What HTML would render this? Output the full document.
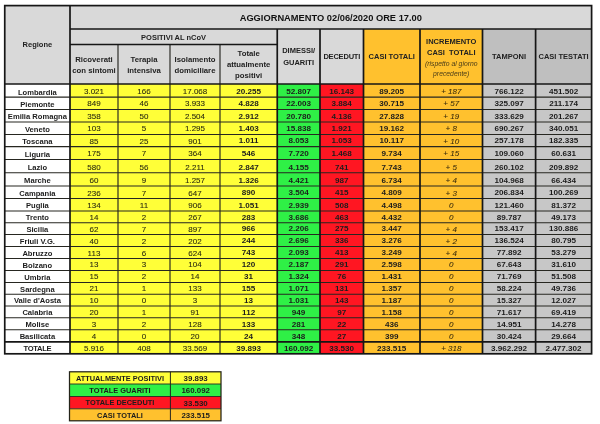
<!DOCTYPE html>
<html lang="it"><head><meta charset="utf-8"><title>Aggiornamento 02/06/2020 ore 17.00</title>
<style>
html,body{margin:0;padding:0;background:#fff;}
body{width:600px;height:424px;overflow:hidden;position:relative;font-family:"Liberation Sans",sans-serif;color:#1c1c1c;}
#wrap{position:absolute;left:0;top:0;width:600px;height:424px;filter:blur(0.4px);}
svg{position:absolute;left:0;top:0;}
.c{position:absolute;display:flex;align-items:center;justify-content:center;text-align:center;white-space:nowrap;font-size:8px;line-height:1;}
.c span{display:block;}
.n{font-weight:400;color:#2a2a10;-webkit-text-stroke:0.08px #2a2a10;}
.b{font-weight:700;font-size:8.1px;}
.r{font-size:7.6px;}
.d{align-items:flex-end;}
.tot{letter-spacing:-0.35px;}
.i{font-style:italic;color:#3a2c0c;-webkit-text-stroke:0.08px #3a2c0c;}
.h{font-weight:700;font-size:7.5px;line-height:11.6px;color:#222;}
.m{font-size:7.75px;line-height:11px;}
.inc b,.inc i{display:block;}
.inc b{line-height:11.7px;}
.inc i{font-weight:400;font-size:6.8px;line-height:9.6px;color:#4a3c18;}
.t{font-weight:700;font-size:9.3px;color:#111;}
.s{font-weight:700;font-size:7.9px;}
.sl{font-size:7.4px;}
</style></head><body><div id="wrap">
<svg width="600" height="424" viewBox="0 0 600 424">
<rect x="4.75" y="5.60" width="65.25" height="78.40" fill="#d9d9d9"/>
<rect x="70.00" y="5.60" width="521.60" height="23.40" fill="#d9d9d9"/>
<rect x="70.00" y="29.00" width="207.25" height="15.60" fill="#d9d9d9"/>
<rect x="70.00" y="44.60" width="207.25" height="39.40" fill="#d9d9d9"/>
<rect x="277.25" y="29.00" width="86.25" height="55.00" fill="#d9d9d9"/>
<rect x="363.50" y="29.00" width="119.00" height="55.00" fill="#ffc12e"/>
<rect x="482.50" y="29.00" width="109.10" height="55.00" fill="#bfbfbf"/>
<rect x="4.75" y="84.00" width="65.25" height="269.80" fill="#ffffff"/>
<rect x="70.00" y="84.00" width="48.00" height="269.80" fill="#ffff38"/>
<rect x="118.00" y="84.00" width="52.00" height="269.80" fill="#ffff38"/>
<rect x="170.00" y="84.00" width="50.00" height="269.80" fill="#ffff38"/>
<rect x="220.00" y="84.00" width="57.25" height="269.80" fill="#ffff38"/>
<rect x="277.25" y="84.00" width="42.75" height="269.80" fill="#2ff046"/>
<rect x="320.00" y="84.00" width="43.50" height="269.80" fill="#ff1622"/>
<rect x="363.50" y="84.00" width="56.50" height="269.80" fill="#ffc12e"/>
<rect x="420.00" y="84.00" width="62.50" height="269.80" fill="#ffc12e"/>
<rect x="482.50" y="84.00" width="53.10" height="269.80" fill="#c7c7c7"/>
<rect x="535.60" y="84.00" width="56.00" height="269.80" fill="#c7c7c7"/>
<line x1="4.75" y1="97.10" x2="591.60" y2="97.10" stroke="#262620" stroke-width="1.05"/>
<line x1="4.75" y1="109.40" x2="591.60" y2="109.40" stroke="#262620" stroke-width="1.05"/>
<line x1="4.75" y1="121.90" x2="591.60" y2="121.90" stroke="#262620" stroke-width="1.05"/>
<line x1="4.75" y1="134.40" x2="591.60" y2="134.40" stroke="#262620" stroke-width="1.05"/>
<line x1="4.75" y1="146.60" x2="591.60" y2="146.60" stroke="#262620" stroke-width="1.05"/>
<line x1="4.75" y1="159.40" x2="591.60" y2="159.40" stroke="#262620" stroke-width="1.05"/>
<line x1="4.75" y1="172.75" x2="591.60" y2="172.75" stroke="#262620" stroke-width="1.05"/>
<line x1="4.75" y1="186.00" x2="591.60" y2="186.00" stroke="#262620" stroke-width="1.05"/>
<line x1="4.75" y1="198.50" x2="591.60" y2="198.50" stroke="#262620" stroke-width="1.05"/>
<line x1="4.75" y1="211.00" x2="591.60" y2="211.00" stroke="#262620" stroke-width="1.05"/>
<line x1="4.75" y1="222.75" x2="591.60" y2="222.75" stroke="#262620" stroke-width="1.05"/>
<line x1="4.75" y1="234.50" x2="591.60" y2="234.50" stroke="#262620" stroke-width="1.05"/>
<line x1="4.75" y1="246.50" x2="591.60" y2="246.50" stroke="#262620" stroke-width="1.05"/>
<line x1="4.75" y1="258.50" x2="591.60" y2="258.50" stroke="#262620" stroke-width="1.05"/>
<line x1="4.75" y1="270.40" x2="591.60" y2="270.40" stroke="#262620" stroke-width="1.05"/>
<line x1="4.75" y1="282.50" x2="591.60" y2="282.50" stroke="#262620" stroke-width="1.05"/>
<line x1="4.75" y1="294.30" x2="591.60" y2="294.30" stroke="#262620" stroke-width="1.05"/>
<line x1="4.75" y1="306.00" x2="591.60" y2="306.00" stroke="#262620" stroke-width="1.05"/>
<line x1="4.75" y1="317.80" x2="591.60" y2="317.80" stroke="#262620" stroke-width="1.05"/>
<line x1="4.75" y1="329.70" x2="591.60" y2="329.70" stroke="#262620" stroke-width="1.05"/>
<line x1="118.00" y1="44.60" x2="118.00" y2="353.80" stroke="#262620" stroke-width="1.15"/>
<line x1="170.00" y1="44.60" x2="170.00" y2="353.80" stroke="#262620" stroke-width="1.15"/>
<line x1="220.00" y1="44.60" x2="220.00" y2="353.80" stroke="#262620" stroke-width="1.15"/>
<line x1="70.00" y1="5.60" x2="70.00" y2="353.80" stroke="#161616" stroke-width="1.7"/>
<line x1="277.25" y1="29.00" x2="277.25" y2="353.80" stroke="#161616" stroke-width="1.7"/>
<line x1="320.00" y1="29.00" x2="320.00" y2="353.80" stroke="#161616" stroke-width="1.7"/>
<line x1="363.50" y1="29.00" x2="363.50" y2="353.80" stroke="#161616" stroke-width="1.7"/>
<line x1="420.00" y1="29.00" x2="420.00" y2="353.80" stroke="#161616" stroke-width="1.7"/>
<line x1="482.50" y1="29.00" x2="482.50" y2="353.80" stroke="#161616" stroke-width="1.7"/>
<line x1="535.60" y1="29.00" x2="535.60" y2="353.80" stroke="#161616" stroke-width="1.7"/>
<line x1="70.00" y1="29.00" x2="591.60" y2="29.00" stroke="#161616" stroke-width="1.7"/>
<line x1="70.00" y1="44.60" x2="277.25" y2="44.60" stroke="#161616" stroke-width="1.5"/>
<line x1="4.75" y1="84.00" x2="591.60" y2="84.00" stroke="#161616" stroke-width="1.7"/>
<line x1="4.75" y1="341.80" x2="591.60" y2="341.80" stroke="#161616" stroke-width="1.7"/>
<rect x="4.75" y="5.60" width="586.85" height="348.20" fill="none" stroke="#161616" stroke-width="1.7"/>
<rect x="69.50" y="371.80" width="151.50" height="12.20" fill="#ffff38"/>
<rect x="69.50" y="384.00" width="151.50" height="12.50" fill="#2ff046"/>
<rect x="69.50" y="396.50" width="151.50" height="12.30" fill="#ff1622"/>
<rect x="69.50" y="408.80" width="151.50" height="12.00" fill="#ffc12e"/>
<line x1="69.50" y1="384.00" x2="221.00" y2="384.00" stroke="#262620" stroke-width="0.9"/>
<line x1="69.50" y1="396.50" x2="221.00" y2="396.50" stroke="#262620" stroke-width="0.9"/>
<line x1="69.50" y1="408.80" x2="221.00" y2="408.80" stroke="#262620" stroke-width="0.9"/>
<line x1="170.40" y1="371.80" x2="170.40" y2="420.80" stroke="#262620" stroke-width="1.0"/>
<rect x="69.50" y="371.80" width="151.50" height="49.00" fill="none" stroke="#24241a" stroke-width="1.25"/>
</svg>
<div class="c h" style="left:4.75px;top:5.60px;width:65.25px;height:78.40px;"><span>Regione</span></div>
<div class="c t" style="left:70.00px;top:7.40px;width:521.60px;height:21.60px;"><span>AGGIORNAMENTO 02/06/2020 ORE 17.00</span></div>
<div class="c h" style="left:70.00px;top:30.20px;width:207.25px;height:14.40px;"><span>POSITIVI AL nCoV</span></div>
<div class="c h m" style="left:70.00px;top:46.60px;width:48.00px;height:37.40px;"><span>Ricoverati<br>con sintomi</span></div>
<div class="c h m" style="left:118.00px;top:46.60px;width:52.00px;height:37.40px;"><span>Terapia<br>intensiva</span></div>
<div class="c h m" style="left:170.00px;top:46.60px;width:50.00px;height:37.40px;"><span>Isolamento<br>domiciliare</span></div>
<div class="c h m" style="left:220.00px;top:44.80px;width:57.25px;height:39.20px;"><span>Totale<br>attualmente<br>positivi</span></div>
<div class="c h" style="left:277.25px;top:29.00px;width:42.75px;height:55.00px;"><span>DIMESSI/<br>GUARITI</span></div>
<div class="c h" style="left:320.00px;top:29.00px;width:43.50px;height:55.00px;letter-spacing:-0.2px;"><span>DECEDUTI</span></div>
<div class="c h" style="left:363.50px;top:29.00px;width:56.50px;height:55.00px;"><span>CASI TOTALI</span></div>
<div class="c h inc" style="left:420.00px;top:30.00px;width:62.50px;height:54.00px;"><span><b>INCREMENTO</b><b>CASI&nbsp; TOTALI</b><i>(rispetto al giorno</i><i>precedente)</i></span></div>
<div class="c h" style="left:482.50px;top:29.00px;width:53.10px;height:55.00px;"><span>TAMPONI</span></div>
<div class="c h" style="left:535.60px;top:29.00px;width:56.00px;height:55.00px;"><span>CASI TESTATI</span></div>
<div class="c b r d" style="left:4.75px;top:84.00px;width:65.25px;height:12.10px;"><span>Lombardia</span></div>
<div class="c n d" style="left:70.00px;top:84.00px;width:48.00px;height:12.10px;"><span>3.021</span></div>
<div class="c n d" style="left:118.00px;top:84.00px;width:52.00px;height:12.10px;"><span>166</span></div>
<div class="c n d" style="left:170.00px;top:84.00px;width:50.00px;height:12.10px;"><span>17.068</span></div>
<div class="c b d" style="left:220.00px;top:84.00px;width:57.25px;height:12.10px;"><span>20.255</span></div>
<div class="c b d" style="left:277.25px;top:84.00px;width:42.75px;height:12.10px;"><span>52.807</span></div>
<div class="c b d" style="left:320.00px;top:84.00px;width:43.50px;height:12.10px;"><span>16.143</span></div>
<div class="c b d" style="left:363.50px;top:84.00px;width:56.50px;height:12.10px;"><span>89.205</span></div>
<div class="c i d" style="left:420.00px;top:84.00px;width:62.50px;height:12.10px;"><span>+ 187</span></div>
<div class="c b d" style="left:482.50px;top:84.00px;width:53.10px;height:12.10px;"><span>766.122</span></div>
<div class="c b d" style="left:535.60px;top:84.00px;width:56.00px;height:12.10px;"><span>451.502</span></div>
<div class="c b r d" style="left:4.75px;top:97.10px;width:65.25px;height:11.30px;"><span>Piemonte</span></div>
<div class="c n d" style="left:70.00px;top:97.10px;width:48.00px;height:11.30px;"><span>849</span></div>
<div class="c n d" style="left:118.00px;top:97.10px;width:52.00px;height:11.30px;"><span>46</span></div>
<div class="c n d" style="left:170.00px;top:97.10px;width:50.00px;height:11.30px;"><span>3.933</span></div>
<div class="c b d" style="left:220.00px;top:97.10px;width:57.25px;height:11.30px;"><span>4.828</span></div>
<div class="c b d" style="left:277.25px;top:97.10px;width:42.75px;height:11.30px;"><span>22.003</span></div>
<div class="c b d" style="left:320.00px;top:97.10px;width:43.50px;height:11.30px;"><span>3.884</span></div>
<div class="c b d" style="left:363.50px;top:97.10px;width:56.50px;height:11.30px;"><span>30.715</span></div>
<div class="c i d" style="left:420.00px;top:97.10px;width:62.50px;height:11.30px;"><span>+ 57</span></div>
<div class="c b d" style="left:482.50px;top:97.10px;width:53.10px;height:11.30px;"><span>325.097</span></div>
<div class="c b d" style="left:535.60px;top:97.10px;width:56.00px;height:11.30px;"><span>211.174</span></div>
<div class="c b r d" style="left:4.75px;top:109.40px;width:65.25px;height:11.50px;"><span>Emilia Romagna</span></div>
<div class="c n d" style="left:70.00px;top:109.40px;width:48.00px;height:11.50px;"><span>358</span></div>
<div class="c n d" style="left:118.00px;top:109.40px;width:52.00px;height:11.50px;"><span>50</span></div>
<div class="c n d" style="left:170.00px;top:109.40px;width:50.00px;height:11.50px;"><span>2.504</span></div>
<div class="c b d" style="left:220.00px;top:109.40px;width:57.25px;height:11.50px;"><span>2.912</span></div>
<div class="c b d" style="left:277.25px;top:109.40px;width:42.75px;height:11.50px;"><span>20.780</span></div>
<div class="c b d" style="left:320.00px;top:109.40px;width:43.50px;height:11.50px;"><span>4.136</span></div>
<div class="c b d" style="left:363.50px;top:109.40px;width:56.50px;height:11.50px;"><span>27.828</span></div>
<div class="c i d" style="left:420.00px;top:109.40px;width:62.50px;height:11.50px;"><span>+ 19</span></div>
<div class="c b d" style="left:482.50px;top:109.40px;width:53.10px;height:11.50px;"><span>333.629</span></div>
<div class="c b d" style="left:535.60px;top:109.40px;width:56.00px;height:11.50px;"><span>201.267</span></div>
<div class="c b r d" style="left:4.75px;top:121.90px;width:65.25px;height:11.50px;"><span>Veneto</span></div>
<div class="c n d" style="left:70.00px;top:121.90px;width:48.00px;height:11.50px;"><span>103</span></div>
<div class="c n d" style="left:118.00px;top:121.90px;width:52.00px;height:11.50px;"><span>5</span></div>
<div class="c n d" style="left:170.00px;top:121.90px;width:50.00px;height:11.50px;"><span>1.295</span></div>
<div class="c b d" style="left:220.00px;top:121.90px;width:57.25px;height:11.50px;"><span>1.403</span></div>
<div class="c b d" style="left:277.25px;top:121.90px;width:42.75px;height:11.50px;"><span>15.838</span></div>
<div class="c b d" style="left:320.00px;top:121.90px;width:43.50px;height:11.50px;"><span>1.921</span></div>
<div class="c b d" style="left:363.50px;top:121.90px;width:56.50px;height:11.50px;"><span>19.162</span></div>
<div class="c i d" style="left:420.00px;top:121.90px;width:62.50px;height:11.50px;"><span>+ 8</span></div>
<div class="c b d" style="left:482.50px;top:121.90px;width:53.10px;height:11.50px;"><span>690.267</span></div>
<div class="c b d" style="left:535.60px;top:121.90px;width:56.00px;height:11.50px;"><span>340.051</span></div>
<div class="c b r d" style="left:4.75px;top:134.40px;width:65.25px;height:11.20px;"><span>Toscana</span></div>
<div class="c n d" style="left:70.00px;top:134.40px;width:48.00px;height:11.20px;"><span>85</span></div>
<div class="c n d" style="left:118.00px;top:134.40px;width:52.00px;height:11.20px;"><span>25</span></div>
<div class="c n d" style="left:170.00px;top:134.40px;width:50.00px;height:11.20px;"><span>901</span></div>
<div class="c b d" style="left:220.00px;top:134.40px;width:57.25px;height:11.20px;"><span>1.011</span></div>
<div class="c b d" style="left:277.25px;top:134.40px;width:42.75px;height:11.20px;"><span>8.053</span></div>
<div class="c b d" style="left:320.00px;top:134.40px;width:43.50px;height:11.20px;"><span>1.053</span></div>
<div class="c b d" style="left:363.50px;top:134.40px;width:56.50px;height:11.20px;"><span>10.117</span></div>
<div class="c i d" style="left:420.00px;top:134.40px;width:62.50px;height:11.20px;"><span>+ 10</span></div>
<div class="c b d" style="left:482.50px;top:134.40px;width:53.10px;height:11.20px;"><span>257.178</span></div>
<div class="c b d" style="left:535.60px;top:134.40px;width:56.00px;height:11.20px;"><span>182.335</span></div>
<div class="c b r d" style="left:4.75px;top:146.60px;width:65.25px;height:11.80px;"><span>Liguria</span></div>
<div class="c n d" style="left:70.00px;top:146.60px;width:48.00px;height:11.80px;"><span>175</span></div>
<div class="c n d" style="left:118.00px;top:146.60px;width:52.00px;height:11.80px;"><span>7</span></div>
<div class="c n d" style="left:170.00px;top:146.60px;width:50.00px;height:11.80px;"><span>364</span></div>
<div class="c b d" style="left:220.00px;top:146.60px;width:57.25px;height:11.80px;"><span>546</span></div>
<div class="c b d" style="left:277.25px;top:146.60px;width:42.75px;height:11.80px;"><span>7.720</span></div>
<div class="c b d" style="left:320.00px;top:146.60px;width:43.50px;height:11.80px;"><span>1.468</span></div>
<div class="c b d" style="left:363.50px;top:146.60px;width:56.50px;height:11.80px;"><span>9.734</span></div>
<div class="c i d" style="left:420.00px;top:146.60px;width:62.50px;height:11.80px;"><span>+ 15</span></div>
<div class="c b d" style="left:482.50px;top:146.60px;width:53.10px;height:11.80px;"><span>109.060</span></div>
<div class="c b d" style="left:535.60px;top:146.60px;width:56.00px;height:11.80px;"><span>60.631</span></div>
<div class="c b r d" style="left:4.75px;top:159.40px;width:65.25px;height:12.35px;"><span>Lazio</span></div>
<div class="c n d" style="left:70.00px;top:159.40px;width:48.00px;height:12.35px;"><span>580</span></div>
<div class="c n d" style="left:118.00px;top:159.40px;width:52.00px;height:12.35px;"><span>56</span></div>
<div class="c n d" style="left:170.00px;top:159.40px;width:50.00px;height:12.35px;"><span>2.211</span></div>
<div class="c b d" style="left:220.00px;top:159.40px;width:57.25px;height:12.35px;"><span>2.847</span></div>
<div class="c b d" style="left:277.25px;top:159.40px;width:42.75px;height:12.35px;"><span>4.155</span></div>
<div class="c b d" style="left:320.00px;top:159.40px;width:43.50px;height:12.35px;"><span>741</span></div>
<div class="c b d" style="left:363.50px;top:159.40px;width:56.50px;height:12.35px;"><span>7.743</span></div>
<div class="c i d" style="left:420.00px;top:159.40px;width:62.50px;height:12.35px;"><span>+ 5</span></div>
<div class="c b d" style="left:482.50px;top:159.40px;width:53.10px;height:12.35px;"><span>260.102</span></div>
<div class="c b d" style="left:535.60px;top:159.40px;width:56.00px;height:12.35px;"><span>209.892</span></div>
<div class="c b r d" style="left:4.75px;top:172.75px;width:65.25px;height:12.25px;"><span>Marche</span></div>
<div class="c n d" style="left:70.00px;top:172.75px;width:48.00px;height:12.25px;"><span>60</span></div>
<div class="c n d" style="left:118.00px;top:172.75px;width:52.00px;height:12.25px;"><span>9</span></div>
<div class="c n d" style="left:170.00px;top:172.75px;width:50.00px;height:12.25px;"><span>1.257</span></div>
<div class="c b d" style="left:220.00px;top:172.75px;width:57.25px;height:12.25px;"><span>1.326</span></div>
<div class="c b d" style="left:277.25px;top:172.75px;width:42.75px;height:12.25px;"><span>4.421</span></div>
<div class="c b d" style="left:320.00px;top:172.75px;width:43.50px;height:12.25px;"><span>987</span></div>
<div class="c b d" style="left:363.50px;top:172.75px;width:56.50px;height:12.25px;"><span>6.734</span></div>
<div class="c i d" style="left:420.00px;top:172.75px;width:62.50px;height:12.25px;"><span>+ 4</span></div>
<div class="c b d" style="left:482.50px;top:172.75px;width:53.10px;height:12.25px;"><span>104.968</span></div>
<div class="c b d" style="left:535.60px;top:172.75px;width:56.00px;height:12.25px;"><span>66.434</span></div>
<div class="c b r d" style="left:4.75px;top:186.00px;width:65.25px;height:11.50px;"><span>Campania</span></div>
<div class="c n d" style="left:70.00px;top:186.00px;width:48.00px;height:11.50px;"><span>236</span></div>
<div class="c n d" style="left:118.00px;top:186.00px;width:52.00px;height:11.50px;"><span>7</span></div>
<div class="c n d" style="left:170.00px;top:186.00px;width:50.00px;height:11.50px;"><span>647</span></div>
<div class="c b d" style="left:220.00px;top:186.00px;width:57.25px;height:11.50px;"><span>890</span></div>
<div class="c b d" style="left:277.25px;top:186.00px;width:42.75px;height:11.50px;"><span>3.504</span></div>
<div class="c b d" style="left:320.00px;top:186.00px;width:43.50px;height:11.50px;"><span>415</span></div>
<div class="c b d" style="left:363.50px;top:186.00px;width:56.50px;height:11.50px;"><span>4.809</span></div>
<div class="c i d" style="left:420.00px;top:186.00px;width:62.50px;height:11.50px;"><span>+ 3</span></div>
<div class="c b d" style="left:482.50px;top:186.00px;width:53.10px;height:11.50px;"><span>206.834</span></div>
<div class="c b d" style="left:535.60px;top:186.00px;width:56.00px;height:11.50px;"><span>100.269</span></div>
<div class="c b r d" style="left:4.75px;top:198.50px;width:65.25px;height:11.50px;"><span>Puglia</span></div>
<div class="c n d" style="left:70.00px;top:198.50px;width:48.00px;height:11.50px;"><span>134</span></div>
<div class="c n d" style="left:118.00px;top:198.50px;width:52.00px;height:11.50px;"><span>11</span></div>
<div class="c n d" style="left:170.00px;top:198.50px;width:50.00px;height:11.50px;"><span>906</span></div>
<div class="c b d" style="left:220.00px;top:198.50px;width:57.25px;height:11.50px;"><span>1.051</span></div>
<div class="c b d" style="left:277.25px;top:198.50px;width:42.75px;height:11.50px;"><span>2.939</span></div>
<div class="c b d" style="left:320.00px;top:198.50px;width:43.50px;height:11.50px;"><span>508</span></div>
<div class="c b d" style="left:363.50px;top:198.50px;width:56.50px;height:11.50px;"><span>4.498</span></div>
<div class="c i d" style="left:420.00px;top:198.50px;width:62.50px;height:11.50px;"><span>0</span></div>
<div class="c b d" style="left:482.50px;top:198.50px;width:53.10px;height:11.50px;"><span>121.460</span></div>
<div class="c b d" style="left:535.60px;top:198.50px;width:56.00px;height:11.50px;"><span>81.372</span></div>
<div class="c b r d" style="left:4.75px;top:211.00px;width:65.25px;height:10.75px;"><span>Trento</span></div>
<div class="c n d" style="left:70.00px;top:211.00px;width:48.00px;height:10.75px;"><span>14</span></div>
<div class="c n d" style="left:118.00px;top:211.00px;width:52.00px;height:10.75px;"><span>2</span></div>
<div class="c n d" style="left:170.00px;top:211.00px;width:50.00px;height:10.75px;"><span>267</span></div>
<div class="c b d" style="left:220.00px;top:211.00px;width:57.25px;height:10.75px;"><span>283</span></div>
<div class="c b d" style="left:277.25px;top:211.00px;width:42.75px;height:10.75px;"><span>3.686</span></div>
<div class="c b d" style="left:320.00px;top:211.00px;width:43.50px;height:10.75px;"><span>463</span></div>
<div class="c b d" style="left:363.50px;top:211.00px;width:56.50px;height:10.75px;"><span>4.432</span></div>
<div class="c i d" style="left:420.00px;top:211.00px;width:62.50px;height:10.75px;"><span>0</span></div>
<div class="c b d" style="left:482.50px;top:211.00px;width:53.10px;height:10.75px;"><span>89.787</span></div>
<div class="c b d" style="left:535.60px;top:211.00px;width:56.00px;height:10.75px;"><span>49.173</span></div>
<div class="c b r d" style="left:4.75px;top:222.75px;width:65.25px;height:10.75px;"><span>Sicilia</span></div>
<div class="c n d" style="left:70.00px;top:222.75px;width:48.00px;height:10.75px;"><span>62</span></div>
<div class="c n d" style="left:118.00px;top:222.75px;width:52.00px;height:10.75px;"><span>7</span></div>
<div class="c n d" style="left:170.00px;top:222.75px;width:50.00px;height:10.75px;"><span>897</span></div>
<div class="c b d" style="left:220.00px;top:222.75px;width:57.25px;height:10.75px;"><span>966</span></div>
<div class="c b d" style="left:277.25px;top:222.75px;width:42.75px;height:10.75px;"><span>2.206</span></div>
<div class="c b d" style="left:320.00px;top:222.75px;width:43.50px;height:10.75px;"><span>275</span></div>
<div class="c b d" style="left:363.50px;top:222.75px;width:56.50px;height:10.75px;"><span>3.447</span></div>
<div class="c i d" style="left:420.00px;top:222.75px;width:62.50px;height:10.75px;"><span>+ 4</span></div>
<div class="c b d" style="left:482.50px;top:222.75px;width:53.10px;height:10.75px;"><span>153.417</span></div>
<div class="c b d" style="left:535.60px;top:222.75px;width:56.00px;height:10.75px;"><span>130.886</span></div>
<div class="c b r d" style="left:4.75px;top:234.50px;width:65.25px;height:11.00px;"><span>Friuli V.G.</span></div>
<div class="c n d" style="left:70.00px;top:234.50px;width:48.00px;height:11.00px;"><span>40</span></div>
<div class="c n d" style="left:118.00px;top:234.50px;width:52.00px;height:11.00px;"><span>2</span></div>
<div class="c n d" style="left:170.00px;top:234.50px;width:50.00px;height:11.00px;"><span>202</span></div>
<div class="c b d" style="left:220.00px;top:234.50px;width:57.25px;height:11.00px;"><span>244</span></div>
<div class="c b d" style="left:277.25px;top:234.50px;width:42.75px;height:11.00px;"><span>2.696</span></div>
<div class="c b d" style="left:320.00px;top:234.50px;width:43.50px;height:11.00px;"><span>336</span></div>
<div class="c b d" style="left:363.50px;top:234.50px;width:56.50px;height:11.00px;"><span>3.276</span></div>
<div class="c i d" style="left:420.00px;top:234.50px;width:62.50px;height:11.00px;"><span>+ 2</span></div>
<div class="c b d" style="left:482.50px;top:234.50px;width:53.10px;height:11.00px;"><span>136.524</span></div>
<div class="c b d" style="left:535.60px;top:234.50px;width:56.00px;height:11.00px;"><span>80.795</span></div>
<div class="c b r d" style="left:4.75px;top:246.50px;width:65.25px;height:11.00px;"><span>Abruzzo</span></div>
<div class="c n d" style="left:70.00px;top:246.50px;width:48.00px;height:11.00px;"><span>113</span></div>
<div class="c n d" style="left:118.00px;top:246.50px;width:52.00px;height:11.00px;"><span>6</span></div>
<div class="c n d" style="left:170.00px;top:246.50px;width:50.00px;height:11.00px;"><span>624</span></div>
<div class="c b d" style="left:220.00px;top:246.50px;width:57.25px;height:11.00px;"><span>743</span></div>
<div class="c b d" style="left:277.25px;top:246.50px;width:42.75px;height:11.00px;"><span>2.093</span></div>
<div class="c b d" style="left:320.00px;top:246.50px;width:43.50px;height:11.00px;"><span>413</span></div>
<div class="c b d" style="left:363.50px;top:246.50px;width:56.50px;height:11.00px;"><span>3.249</span></div>
<div class="c i d" style="left:420.00px;top:246.50px;width:62.50px;height:11.00px;"><span>+ 4</span></div>
<div class="c b d" style="left:482.50px;top:246.50px;width:53.10px;height:11.00px;"><span>77.892</span></div>
<div class="c b d" style="left:535.60px;top:246.50px;width:56.00px;height:11.00px;"><span>53.279</span></div>
<div class="c b r d" style="left:4.75px;top:258.50px;width:65.25px;height:10.90px;"><span>Bolzano</span></div>
<div class="c n d" style="left:70.00px;top:258.50px;width:48.00px;height:10.90px;"><span>13</span></div>
<div class="c n d" style="left:118.00px;top:258.50px;width:52.00px;height:10.90px;"><span>3</span></div>
<div class="c n d" style="left:170.00px;top:258.50px;width:50.00px;height:10.90px;"><span>104</span></div>
<div class="c b d" style="left:220.00px;top:258.50px;width:57.25px;height:10.90px;"><span>120</span></div>
<div class="c b d" style="left:277.25px;top:258.50px;width:42.75px;height:10.90px;"><span>2.187</span></div>
<div class="c b d" style="left:320.00px;top:258.50px;width:43.50px;height:10.90px;"><span>291</span></div>
<div class="c b d" style="left:363.50px;top:258.50px;width:56.50px;height:10.90px;"><span>2.598</span></div>
<div class="c i d" style="left:420.00px;top:258.50px;width:62.50px;height:10.90px;"><span>0</span></div>
<div class="c b d" style="left:482.50px;top:258.50px;width:53.10px;height:10.90px;"><span>67.643</span></div>
<div class="c b d" style="left:535.60px;top:258.50px;width:56.00px;height:10.90px;"><span>31.610</span></div>
<div class="c b r d" style="left:4.75px;top:270.40px;width:65.25px;height:11.10px;"><span>Umbria</span></div>
<div class="c n d" style="left:70.00px;top:270.40px;width:48.00px;height:11.10px;"><span>15</span></div>
<div class="c n d" style="left:118.00px;top:270.40px;width:52.00px;height:11.10px;"><span>2</span></div>
<div class="c n d" style="left:170.00px;top:270.40px;width:50.00px;height:11.10px;"><span>14</span></div>
<div class="c b d" style="left:220.00px;top:270.40px;width:57.25px;height:11.10px;"><span>31</span></div>
<div class="c b d" style="left:277.25px;top:270.40px;width:42.75px;height:11.10px;"><span>1.324</span></div>
<div class="c b d" style="left:320.00px;top:270.40px;width:43.50px;height:11.10px;"><span>76</span></div>
<div class="c b d" style="left:363.50px;top:270.40px;width:56.50px;height:11.10px;"><span>1.431</span></div>
<div class="c i d" style="left:420.00px;top:270.40px;width:62.50px;height:11.10px;"><span>0</span></div>
<div class="c b d" style="left:482.50px;top:270.40px;width:53.10px;height:11.10px;"><span>71.769</span></div>
<div class="c b d" style="left:535.60px;top:270.40px;width:56.00px;height:11.10px;"><span>51.508</span></div>
<div class="c b r d" style="left:4.75px;top:282.50px;width:65.25px;height:10.80px;"><span>Sardegna</span></div>
<div class="c n d" style="left:70.00px;top:282.50px;width:48.00px;height:10.80px;"><span>21</span></div>
<div class="c n d" style="left:118.00px;top:282.50px;width:52.00px;height:10.80px;"><span>1</span></div>
<div class="c n d" style="left:170.00px;top:282.50px;width:50.00px;height:10.80px;"><span>133</span></div>
<div class="c b d" style="left:220.00px;top:282.50px;width:57.25px;height:10.80px;"><span>155</span></div>
<div class="c b d" style="left:277.25px;top:282.50px;width:42.75px;height:10.80px;"><span>1.071</span></div>
<div class="c b d" style="left:320.00px;top:282.50px;width:43.50px;height:10.80px;"><span>131</span></div>
<div class="c b d" style="left:363.50px;top:282.50px;width:56.50px;height:10.80px;"><span>1.357</span></div>
<div class="c i d" style="left:420.00px;top:282.50px;width:62.50px;height:10.80px;"><span>0</span></div>
<div class="c b d" style="left:482.50px;top:282.50px;width:53.10px;height:10.80px;"><span>58.224</span></div>
<div class="c b d" style="left:535.60px;top:282.50px;width:56.00px;height:10.80px;"><span>49.736</span></div>
<div class="c b r d" style="left:4.75px;top:294.30px;width:65.25px;height:10.70px;"><span>Valle d'Aosta</span></div>
<div class="c n d" style="left:70.00px;top:294.30px;width:48.00px;height:10.70px;"><span>10</span></div>
<div class="c n d" style="left:118.00px;top:294.30px;width:52.00px;height:10.70px;"><span>0</span></div>
<div class="c n d" style="left:170.00px;top:294.30px;width:50.00px;height:10.70px;"><span>3</span></div>
<div class="c b d" style="left:220.00px;top:294.30px;width:57.25px;height:10.70px;"><span>13</span></div>
<div class="c b d" style="left:277.25px;top:294.30px;width:42.75px;height:10.70px;"><span>1.031</span></div>
<div class="c b d" style="left:320.00px;top:294.30px;width:43.50px;height:10.70px;"><span>143</span></div>
<div class="c b d" style="left:363.50px;top:294.30px;width:56.50px;height:10.70px;"><span>1.187</span></div>
<div class="c i d" style="left:420.00px;top:294.30px;width:62.50px;height:10.70px;"><span>0</span></div>
<div class="c b d" style="left:482.50px;top:294.30px;width:53.10px;height:10.70px;"><span>15.327</span></div>
<div class="c b d" style="left:535.60px;top:294.30px;width:56.00px;height:10.70px;"><span>12.027</span></div>
<div class="c b r d" style="left:4.75px;top:306.00px;width:65.25px;height:10.80px;"><span>Calabria</span></div>
<div class="c n d" style="left:70.00px;top:306.00px;width:48.00px;height:10.80px;"><span>20</span></div>
<div class="c n d" style="left:118.00px;top:306.00px;width:52.00px;height:10.80px;"><span>1</span></div>
<div class="c n d" style="left:170.00px;top:306.00px;width:50.00px;height:10.80px;"><span>91</span></div>
<div class="c b d" style="left:220.00px;top:306.00px;width:57.25px;height:10.80px;"><span>112</span></div>
<div class="c b d" style="left:277.25px;top:306.00px;width:42.75px;height:10.80px;"><span>949</span></div>
<div class="c b d" style="left:320.00px;top:306.00px;width:43.50px;height:10.80px;"><span>97</span></div>
<div class="c b d" style="left:363.50px;top:306.00px;width:56.50px;height:10.80px;"><span>1.158</span></div>
<div class="c i d" style="left:420.00px;top:306.00px;width:62.50px;height:10.80px;"><span>0</span></div>
<div class="c b d" style="left:482.50px;top:306.00px;width:53.10px;height:10.80px;"><span>71.617</span></div>
<div class="c b d" style="left:535.60px;top:306.00px;width:56.00px;height:10.80px;"><span>69.419</span></div>
<div class="c b r d" style="left:4.75px;top:317.80px;width:65.25px;height:10.90px;"><span>Molise</span></div>
<div class="c n d" style="left:70.00px;top:317.80px;width:48.00px;height:10.90px;"><span>3</span></div>
<div class="c n d" style="left:118.00px;top:317.80px;width:52.00px;height:10.90px;"><span>2</span></div>
<div class="c n d" style="left:170.00px;top:317.80px;width:50.00px;height:10.90px;"><span>128</span></div>
<div class="c b d" style="left:220.00px;top:317.80px;width:57.25px;height:10.90px;"><span>133</span></div>
<div class="c b d" style="left:277.25px;top:317.80px;width:42.75px;height:10.90px;"><span>281</span></div>
<div class="c b d" style="left:320.00px;top:317.80px;width:43.50px;height:10.90px;"><span>22</span></div>
<div class="c b d" style="left:363.50px;top:317.80px;width:56.50px;height:10.90px;"><span>436</span></div>
<div class="c i d" style="left:420.00px;top:317.80px;width:62.50px;height:10.90px;"><span>0</span></div>
<div class="c b d" style="left:482.50px;top:317.80px;width:53.10px;height:10.90px;"><span>14.951</span></div>
<div class="c b d" style="left:535.60px;top:317.80px;width:56.00px;height:10.90px;"><span>14.278</span></div>
<div class="c b r d" style="left:4.75px;top:329.70px;width:65.25px;height:11.10px;"><span>Basilicata</span></div>
<div class="c n d" style="left:70.00px;top:329.70px;width:48.00px;height:11.10px;"><span>4</span></div>
<div class="c n d" style="left:118.00px;top:329.70px;width:52.00px;height:11.10px;"><span>0</span></div>
<div class="c n d" style="left:170.00px;top:329.70px;width:50.00px;height:11.10px;"><span>20</span></div>
<div class="c b d" style="left:220.00px;top:329.70px;width:57.25px;height:11.10px;"><span>24</span></div>
<div class="c b d" style="left:277.25px;top:329.70px;width:42.75px;height:11.10px;"><span>348</span></div>
<div class="c b d" style="left:320.00px;top:329.70px;width:43.50px;height:11.10px;"><span>27</span></div>
<div class="c b d" style="left:363.50px;top:329.70px;width:56.50px;height:11.10px;"><span>399</span></div>
<div class="c i d" style="left:420.00px;top:329.70px;width:62.50px;height:11.10px;"><span>0</span></div>
<div class="c b d" style="left:482.50px;top:329.70px;width:53.10px;height:11.10px;"><span>30.424</span></div>
<div class="c b d" style="left:535.60px;top:329.70px;width:56.00px;height:11.10px;"><span>29.664</span></div>
<div class="c b r tot d" style="left:4.75px;top:341.80px;width:65.25px;height:11.00px;"><span>TOTALE</span></div>
<div class="c n d" style="left:70.00px;top:341.80px;width:48.00px;height:11.00px;"><span>5.916</span></div>
<div class="c n d" style="left:118.00px;top:341.80px;width:52.00px;height:11.00px;"><span>408</span></div>
<div class="c n d" style="left:170.00px;top:341.80px;width:50.00px;height:11.00px;"><span>33.569</span></div>
<div class="c b d" style="left:220.00px;top:341.80px;width:57.25px;height:11.00px;"><span>39.893</span></div>
<div class="c b d" style="left:277.25px;top:341.80px;width:42.75px;height:11.00px;"><span>160.092</span></div>
<div class="c b d" style="left:320.00px;top:341.80px;width:43.50px;height:11.00px;"><span>33.530</span></div>
<div class="c b d" style="left:363.50px;top:341.80px;width:56.50px;height:11.00px;"><span>233.515</span></div>
<div class="c i d" style="left:420.00px;top:341.80px;width:62.50px;height:11.00px;"><span>+ 318</span></div>
<div class="c b d" style="left:482.50px;top:341.80px;width:53.10px;height:11.00px;"><span>3.962.292</span></div>
<div class="c b d" style="left:535.60px;top:341.80px;width:56.00px;height:11.00px;"><span>2.477.302</span></div>
<div class="c s sl" style="left:69.50px;top:372.80px;width:100.90px;height:11.20px;"><span>ATTUALMENTE POSITIVI</span></div>
<div class="c s" style="left:170.40px;top:373.80px;width:50.60px;height:10.20px;"><span>39.893</span></div>
<div class="c s sl" style="left:69.50px;top:385.00px;width:100.90px;height:11.50px;"><span>TOTALE GUARITI</span></div>
<div class="c s" style="left:170.40px;top:386.00px;width:50.60px;height:10.50px;"><span>160.092</span></div>
<div class="c s sl" style="left:69.50px;top:397.50px;width:100.90px;height:11.30px;"><span>TOTALE DECEDUTI</span></div>
<div class="c s" style="left:170.40px;top:398.50px;width:50.60px;height:10.30px;"><span>33.530</span></div>
<div class="c s sl" style="left:69.50px;top:409.80px;width:100.90px;height:11.00px;"><span>CASI TOTALI</span></div>
<div class="c s" style="left:170.40px;top:410.80px;width:50.60px;height:10.00px;"><span>233.515</span></div>
</div></body></html>
